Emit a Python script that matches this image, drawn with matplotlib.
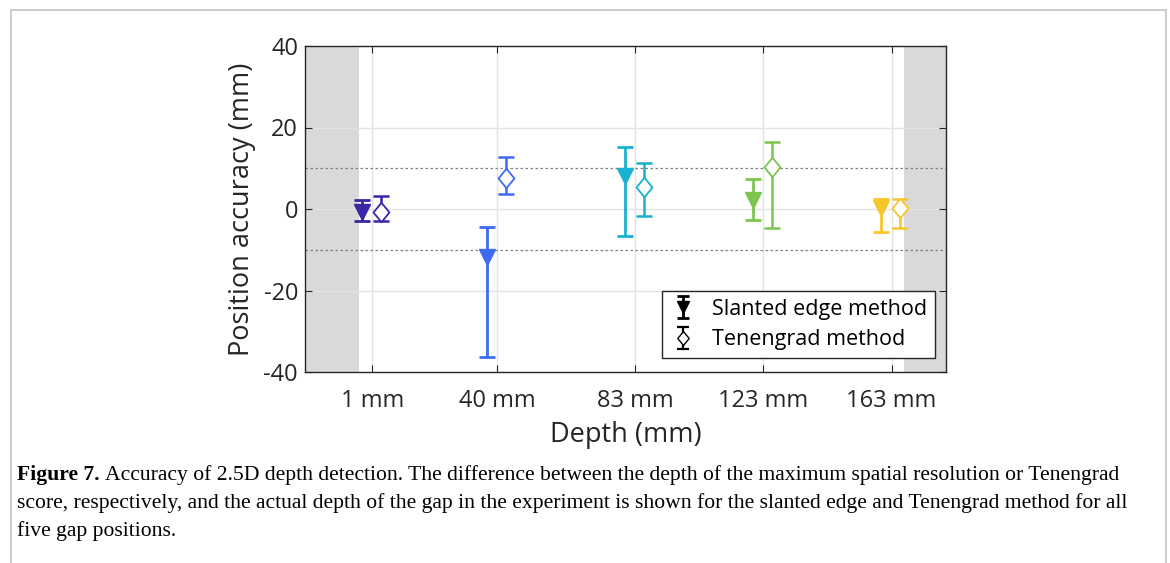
import matplotlib
matplotlib.use("Agg")
import matplotlib.pyplot as plt
from matplotlib.patches import Rectangle

# depths of the five gap positions (mm)
depths = [1, 40, 83, 123, 163]
tick_labels = ["1 mm", "40 mm", "83 mm", "123 mm", "163 mm"]
colors = ["#3b26a6", "#3d6cf2", "#17b2cf", "#7cc54f", "#f6c62b"]

# slanted edge method: value, lower and upper end of the error bar
slanted = [-0.8, -11.7, 8.1, 2.1, 0.3]
slanted_lo = [-3.0, -36.3, -6.6, -2.7, -5.7]
slanted_hi = [2.1, -4.3, 15.3, 7.4, 2.4]

# tenengrad method
tenen = [-0.7, 7.6, 5.5, 10.4, 0.2]
tenen_lo = [-3.0, 3.8, -1.7, -4.7, -4.7]
tenen_hi = [3.1, 12.7, 11.3, 16.4, 2.4]

caption_lines = [
    "Accuracy of 2.5D depth detection. The difference between the depth of the maximum spatial resolution or Tenengrad",
    "score, respectively, and the actual depth of the gap in the experiment is shown for the slanted edge and Tenengrad method for all",
    "five gap positions.",
]

plt.rcParams['font.family'] = ['Open Sans', 'DejaVu Sans']
plt.rcParams['axes.unicode_minus'] = False

# MATLAB-like diamond, a bit taller than wide
diamond = [(0, 1), (0.82, 0), (0, -1), (-0.82, 0), (0, 1)]

fig = plt.figure(figsize=(11.7, 5.63), dpi=100)
ax = fig.add_axes([305/1170, 1 - 372/563, 641/1170, 326/563])

# gray bands outside the measured range
ax.axvspan(-20, -3.3, color="#d9d9d9", lw=0, zorder=0)
ax.axvspan(167, 180, color="#d9d9d9", lw=0, zorder=0)

ax.grid(True, color="#e3e3e3", lw=1.0, zorder=0.5)
ax.set_axisbelow(True)
ax.axhline(10, color="#808080", ls=(0, (2, 2)), lw=0.9, zorder=1)
ax.axhline(-10, color="#808080", ls=(0, (2, 2)), lw=0.9, zorder=1)

for i in range(len(depths)):
    c = colors[i]
    x1 = depths[i] - 3.2
    ax.errorbar([x1], [slanted[i]],
                yerr=[[slanted[i] - slanted_lo[i]], [slanted_hi[i] - slanted[i]]],
                fmt='v', color=c, mfc=c, mec=c, ms=11, elinewidth=2, capsize=6,
                capthick=2, zorder=3)
    x2 = depths[i] + 2.7
    ax.errorbar([x2], [tenen[i]],
                yerr=[[tenen[i] - tenen_lo[i]], [tenen_hi[i] - tenen[i]]],
                fmt='none', ecolor=c, elinewidth=1.8, capsize=6, capthick=1.8,
                zorder=3)
    ax.plot([x2], [tenen[i]], marker=diamond, ms=14, mfc='white', mec=c,
            mew=1.3, ls='none', zorder=4)

# legend handles in black (dummy points far outside the view)
h1 = ax.errorbar([-999], [0], yerr=[1], fmt='v', color='black', ms=9,
                 elinewidth=2, capsize=4, capthick=2)
h2 = ax.errorbar([-999], [0], yerr=[1], marker=diamond, ls='none', color='black',
                 mfc='white', ms=10, elinewidth=1.6, capsize=4, capthick=1.6)
ax.set_xlim(-20, 180)
ax.set_ylim(-40, 40)
leg = ax.legend([h1, h2], ["Slanted edge method", "Tenengrad method"],
                loc="lower right", bbox_to_anchor=(0.983, 0.043), fontsize=15.5,
                frameon=True, fancybox=False, edgecolor="#262626",
                handlelength=1.3, handletextpad=0.7, borderpad=0.35,
                labelspacing=0.45, borderaxespad=0, framealpha=1)
leg.get_frame().set_linewidth(1.0)

ax.set_xticks(depths)
ax.set_xticklabels(tick_labels)
ax.set_yticks([-40, -20, 0, 20, 40])
ax.set_yticklabels(["-40", "-20", "0", "20", "40"])
ax.tick_params(direction='in', top=True, right=True, length=5, width=0.8,
               labelsize=17, colors="#262626", pad=5)
ax.tick_params(axis='x', pad=12)
for s in ax.spines.values():
    s.set_color("#262626")
    s.set_linewidth(1.0)

ax.set_xlabel("Depth (mm)", fontsize=19.5, color="#262626", labelpad=6)
ax.set_ylabel("Position accuracy (mm)", fontsize=19.5, color="#262626", labelpad=5)

# page border like the source screenshot
fig.add_artist(Rectangle((11/1170, -0.1), (1166 - 11)/1170, 1.1 - 9.5/563,
                         transform=fig.transFigure, fill=False,
                         edgecolor="#c8c8c8", lw=1.3))

# caption
cap_size = 15.6
y0 = 1 - 475/563
t0 = fig.text(17/1170, y0, "Figure 7. ", fontsize=cap_size, fontweight='bold',
              family=['Liberation Serif'], va='center')
fig.canvas.draw()
bb = t0.get_window_extent()
fig.text(bb.x1/1170, y0, caption_lines[0], fontsize=cap_size,
         family=['Liberation Serif'], va='center')
fig.text(17/1170, 1 - 503/563, caption_lines[1], fontsize=cap_size,
         family=['Liberation Serif'], va='center')
fig.text(17/1170, 1 - 531/563, caption_lines[2], fontsize=cap_size,
         family=['Liberation Serif'], va='center')

fig.savefig("out.png", dpi=100)
